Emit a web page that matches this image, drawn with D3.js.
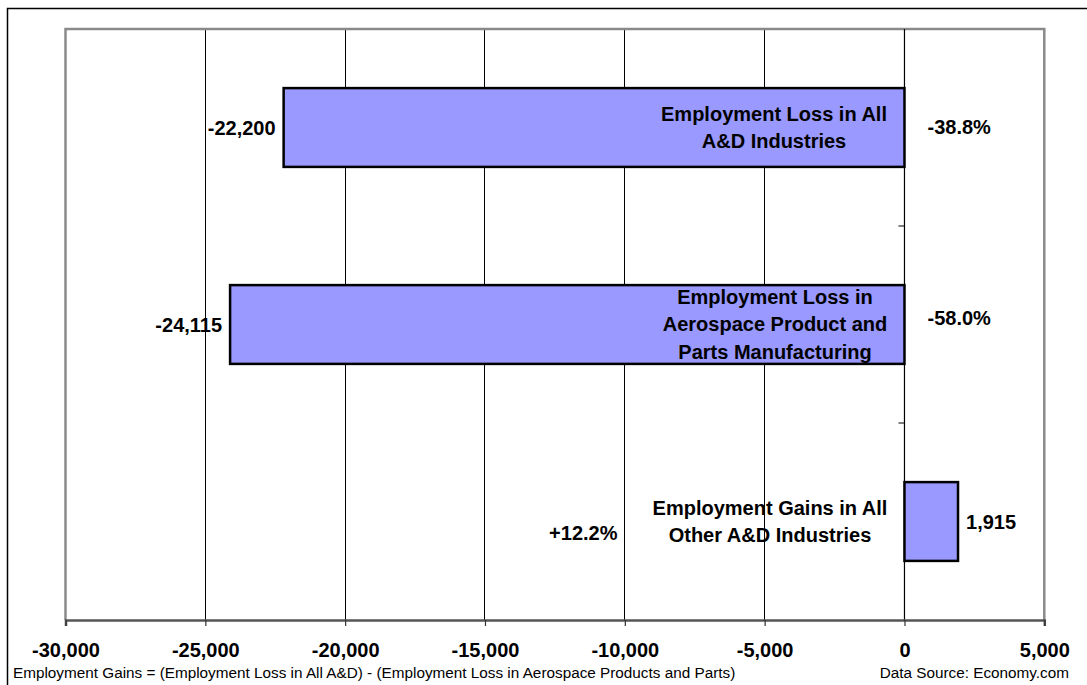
<!DOCTYPE html>
<html>
<head>
<meta charset="utf-8">
<script src="https://cdn.jsdelivr.net/npm/d3@7"></script>
<style>
  html, body { margin: 0; padding: 0; background: #fff; }
  svg { display: block; font-family: "Liberation Sans", Arial, sans-serif; }
</style>
</head>
<body>
<svg id="chart" width="1087" height="685"></svg>
<script>
// Employment change by A&D segment
const categories = [
  "Employment Loss in All\nA&D Industries",
  "Employment Loss in\nAerospace Product and\nParts Manufacturing",
  "Employment Gains in All\nOther A&D Industries"
];
const values = [-22200, -24115, 1915];
const valueLabels = ["-22,200", "-24,115", "1,915"];
const percentLabels = ["-38.8%", "-58.0%", "+12.2%"];
const xTicks = [-30000, -25000, -20000, -15000, -10000, -5000, 0, 5000];
const footnote = "Employment Gains = (Employment Loss in All A&D) - (Employment Loss in Aerospace Products and Parts)";
const source = "Data Source: Economy.com";

const svg = d3.select("#chart");
const W = 1087, H = 685;
const plot = { left: 65.5, right: 1044.3, top: 29, bottom: 620 };

const x = d3.scaleLinear().domain([-30000, 5000]).range([plot.left, plot.right]);
const y = d3.scaleBand().domain(categories).range([plot.top, plot.bottom])
  .paddingInner(0.6).paddingOuter(0.3);
const step = y.step();
// thousands separator with a plain hyphen for negatives
const fmt = d => d3.format(",")(d).replace("\u2212", "-");

// outer frame (right and bottom edges run past the page)
svg.append("rect").attr("x", 7.5).attr("y", 8.5).attr("width", W + 20).attr("height", H + 20)
  .attr("fill", "#fff").attr("stroke", "#000").attr("stroke-width", 1.5);

// plot background
svg.append("rect").attr("x", plot.left).attr("y", plot.top)
  .attr("width", plot.right - plot.left).attr("height", plot.bottom - plot.top)
  .attr("fill", "#fff");

// value labels outside the bars
const valLayer = svg.append("g").attr("font-size", 20).attr("font-weight", "bold").attr("fill", "#000");
values.forEach((v, i) => {
  const cy = y(categories[i]) + y.bandwidth() / 2;
  if (v < 0) {
    valLayer.append("text").attr("x", x(v) - 8).attr("y", cy + 7)
      .attr("text-anchor", "end").text(valueLabels[i]);
  } else {
    valLayer.append("text").attr("x", x(v) + 8).attr("y", cy + 7)
      .attr("text-anchor", "start").text(valueLabels[i]);
  }
});

// percent change labels
const pctOffsets = [
  { dx: 23, dy: 6, anchor: "start" },
  { dx: 23, dy: 0.5, anchor: "start" },
  { dx: -287, dy: 18.5, anchor: "end" }
];
percentLabels.forEach((p, i) => {
  const cy = y(categories[i]) + y.bandwidth() / 2;
  const o = pctOffsets[i];
  valLayer.append("text").attr("x", x(0) + o.dx).attr("y", cy + o.dy)
    .attr("text-anchor", o.anchor).text(p);
});

// category label for the gains bar sits outside, left of zero
const catLayerBack = svg.append("g").attr("font-size", 20).attr("font-weight", "bold").attr("fill", "#000");

function drawCategory(g, i, cx, lh) {
  const lines = categories[i].split("\n");
  const cy = y(categories[i]) + y.bandwidth() / 2;
  const t = g.append("text").attr("text-anchor", "middle");
  lines.forEach((ln, k) => {
    t.append("tspan").attr("x", cx)
      .attr("y", cy + 6.5 + (k - (lines.length - 1) / 2) * lh).text(ln);
  });
}
drawCategory(catLayerBack, 2, 770, 27);

// vertical gridlines
const grid = svg.append("g");
grid.selectAll("line").data(xTicks.filter(t => t > -30000 && t < 0)).join("line")
  .attr("x1", d => x(d)).attr("x2", d => x(d))
  .attr("y1", plot.top).attr("y2", plot.bottom)
  .attr("stroke", "#000").attr("stroke-width", 1).attr("shape-rendering", "crispEdges");

// plot border (gray)
svg.append("path")
  .attr("d", `M${plot.left},${plot.bottom}V${plot.top}H${plot.right}V${plot.bottom}`)
  .attr("fill", "none").attr("stroke", "#8a8a8a").attr("stroke-width", 2.5);

// zero axis with category ticks
svg.append("line").attr("x1", x(0)).attr("x2", x(0)).attr("y1", plot.top).attr("y2", plot.bottom)
  .attr("stroke", "#000").attr("stroke-width", 1.2);
const catTicks = d3.range(1, categories.length).map(k => plot.top + k * step);
svg.append("g").selectAll("line").data(catTicks).join("line")
  .attr("x1", x(0) - 6).attr("x2", x(0)).attr("y1", d => d).attr("y2", d => d)
  .attr("stroke", "#000").attr("stroke-width", 1);

// bars
svg.append("g").selectAll("rect").data(values).join("rect")
  .attr("x", d => x(Math.min(0, d)))
  .attr("width", d => Math.abs(x(d) - x(0)))
  .attr("y", (d, i) => y(categories[i]))
  .attr("height", y.bandwidth())
  .attr("fill", "#9999ff").attr("stroke", "#000").attr("stroke-width", 2.5);

// category labels inside the loss bars
const catLayerFront = svg.append("g").attr("font-size", 20).attr("font-weight", "bold").attr("fill", "#000");
drawCategory(catLayerFront, 0, 774, 27);
drawCategory(catLayerFront, 1, 775, 27.5);

// x axis
const xAxis = d3.axisBottom(x).tickValues(xTicks).tickFormat(fmt).tickSize(6).tickPadding(17);
const gx = svg.append("g").attr("transform", `translate(0,${plot.bottom})`).call(xAxis);
gx.select(".domain").attr("stroke", "#555").attr("stroke-width", 2.5);
gx.selectAll(".tick line").attr("stroke", "#333").attr("stroke-width", 1.2);
gx.selectAll(".tick text").attr("font-size", 20).attr("font-weight", "bold")
  .attr("font-family", "'Liberation Sans', Arial, sans-serif").attr("fill", "#000");

// footer notes
svg.append("text").attr("x", 13).attr("y", 678).attr("font-size", 15.3).attr("fill", "#000").text(footnote);
svg.append("text").attr("x", 1069).attr("y", 678).attr("font-size", 15.3).attr("text-anchor", "end")
  .attr("fill", "#000").text(source);
</script>
</body>
</html>
